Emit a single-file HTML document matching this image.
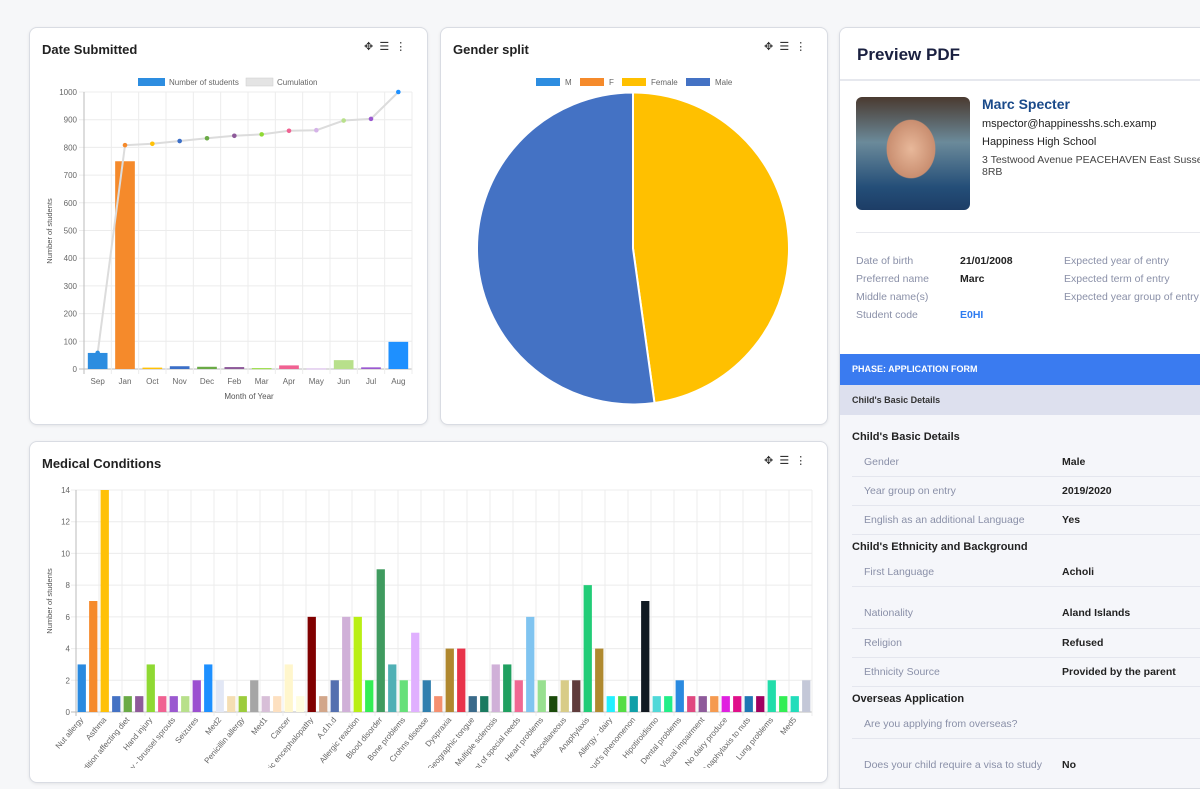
<!DOCTYPE html>
<html><head><meta charset="utf-8">
<style>
html,body{margin:0;padding:0;width:1200px;height:768px;overflow:hidden;background:#f6f7f9;font-family:"Liberation Sans",sans-serif;}
.card{position:absolute;background:#fff;border:1px solid #d9dce3;border-radius:8px;box-shadow:0 1px 3px rgba(0,0,0,.08);overflow:hidden;}
.title{position:absolute;left:12px;top:14px;font-size:13px;font-weight:bold;color:#222;}
.icons{position:absolute;top:12px;font-size:11px;color:#333;}
svg text{font-family:"Liberation Sans",sans-serif;}
.pv{position:absolute;font-size:10.5px;white-space:nowrap;}
.lbl{color:#8a90a8;}
.val{color:#222;font-weight:bold;}
</style></head><body>

<div class="card" style="left:29px;top:27px;width:397px;height:396px;">
  <div class="title">Date Submitted</div>
  <div class="icons" style="left:334px;">✥ &nbsp;☰ &nbsp;⋮</div>
</div>
<div class="card" style="left:440px;top:27px;width:386px;height:396px;">
  <div class="title">Gender split</div>
  <div class="icons" style="left:323px;">✥ &nbsp;☰ &nbsp;⋮</div>
</div>
<div class="card" style="left:29px;top:441px;width:797px;height:340px;">
  <div class="title">Medical Conditions</div>
  <div class="icons" style="left:734px;">✥ &nbsp;☰ &nbsp;⋮</div>
</div>

<svg id="charts" width="840" height="768" style="position:absolute;left:0;top:0;"></svg>

<div class="card" style="left:839px;top:27px;width:370px;height:760px;border-radius:8px 0 0 0;background:#f5f6fa;">
  <div style="position:absolute;left:0;top:0;width:370px;height:326px;background:#fff;"></div>
  <div style="position:absolute;left:17px;top:17px;font-size:17px;font-weight:bold;color:#1a2040;">Preview PDF</div>
  <div style="position:absolute;left:0;top:51px;width:370px;height:2px;background:#e6e8ee;"></div>
  <div style="position:absolute;left:16px;top:69px;width:114px;height:113px;border-radius:6px;background:radial-gradient(ellipse 40px 48px at 55px 52px,#e8b89a 0%,#c98e70 60%,transparent 62%),linear-gradient(180deg,#4a3a30 0%,#6b8a9a 40%,#244e78 80%,#1d3d66 100%);"></div>
  <div style="position:absolute;left:142px;top:68px;font-size:14px;font-weight:bold;color:#1a4a8a;">Marc Specter</div>
  <div class="pv" style="left:142px;top:90px;color:#222;font-size:11px;">mspector@happinesshs.sch.examp</div>
  <div class="pv" style="left:142px;top:108px;color:#222;font-size:11px;">Happiness High School</div>
  <div class="pv" style="left:142px;top:126px;color:#444;font-size:10.5px;line-height:12px;">3 Testwood Avenue PEACEHAVEN East Sussex<br>8RB</div>
  <div style="position:absolute;left:16px;top:204px;width:360px;height:1px;background:#e8e9ee;"></div>
  <div class="pv lbl" style="left:16px;top:227px;">Date of birth</div><div class="pv val" style="left:120px;top:227px;">21/01/2008</div><div class="pv lbl" style="left:224px;top:227px;">Expected year of entry</div>
  <div class="pv lbl" style="left:16px;top:245px;">Preferred name</div><div class="pv val" style="left:120px;top:245px;">Marc</div><div class="pv lbl" style="left:224px;top:245px;">Expected term of entry</div>
  <div class="pv lbl" style="left:16px;top:263px;">Middle name(s)</div><div class="pv lbl" style="left:224px;top:263px;">Expected year group of entry</div>
  <div class="pv lbl" style="left:16px;top:281px;">Student code</div><div class="pv" style="left:120px;top:281px;color:#2f7cf0;font-weight:bold;">E0HI</div>
  <div style="position:absolute;left:0;top:326px;width:370px;height:31px;background:#3a7bf0;color:#fff;font-size:9px;font-weight:bold;line-height:31px;padding-left:12px;box-sizing:border-box;">PHASE: APPLICATION FORM</div>
  <div style="position:absolute;left:0;top:357px;width:370px;height:30px;background:#dde0ee;color:#333;font-size:9px;font-weight:bold;line-height:30px;padding-left:12px;box-sizing:border-box;">Child's Basic Details</div>
  <div style="position:absolute;left:12px;top:403px;font-size:11px;font-weight:bold;color:#222;">Child's Basic Details</div>
  <div style="position:absolute;left:12px;top:513px;font-size:11px;font-weight:bold;color:#222;">Child's Ethnicity and Background</div>
  <div style="position:absolute;left:12px;top:665px;font-size:11px;font-weight:bold;color:#222;">Overseas Application</div>
  <div id="rows"></div>
</div>

<script>
// ---------- Date Submitted ----------
const months = ["Sep","Jan","Oct","Nov","Dec","Feb","Mar","Apr","May","Jun","Jul","Aug"];
const monthCounts = [58,750,5,10,8,7,3,13,2,32,6,98];
const cumulation = [58,808,813,823,833,842,847,860,862,897,903,1000];
const monthColors = ["#2d8de0","#f58a2b","#ffc107","#3b6fc8","#6aaa46","#8e5a9a","#8fd933","#f06292","#d5b3e8","#b8e08b","#9b59d0","#1e90ff"];
const dateTicks = [0,100,200,300,400,500,600,700,800,900,1000];

// ---------- Gender ----------
const genderLabels = ["M","F","Female","Male"];
const genderValues = [0,0,478,522];
const genderColors = ["#2d8de0","#f58a2b","#ffc000","#4472c4"];

// ---------- Medical ----------
const conditions = ["Nut allergy","Peanut allergy","Asthma","Eczema","Condition affecting diet","Diabetes","Hand injury","Hay fever","Allergy - brussel sprouts","Epilepsy","Seizures","Migraine","Med2","Med3","Penicillin allergy","Med4","Med1","Autism","Cancer","Anaemia","Hypoxic encephalopathy","Arthritis","A.d.h.d","Lactose intolerance","Allergic reaction","Bee sting allergy","Blood disorder","Back problems","Bone problems","Coeliac disease","Crohns disease","Deafness","Dyspraxia","Dyslexia","Geographic tongue","Glue ear","Multiple sclerosis","Gluten allergy","Statement of special needs","Hearing impairment","Heart problems","Kidney problems","Miscellaneous","Mobility","Anaphylaxis","Speech problems","Allergy - dairy","Allergy - egg","Raynaud's phenomenon","Scoliosis","Hipotiroidismo","Sickle cell","Dental problems","Skin condition","Visual impairment","Wheat allergy","No dairy produce","Fish allergy","Anaphylaxis to nuts","Soya allergy","Lung problems","Shellfish allergy","Med5","Other"];
const conditionCounts = [3,7,14,1,1,1,3,1,1,1,2,3,2,1,1,2,1,1,3,1,6,1,2,6,6,2,9,3,2,5,2,1,4,4,1,1,3,3,2,6,2,1,2,2,8,4,1,1,1,7,1,1,2,1,1,1,1,1,1,1,2,1,1,2];
const conditionColors = ["#2a8ae0","#f58a2b","#ffc107","#4472c4","#6aaa46","#8e5a9a","#8fd933","#f06292","#9b59d0","#b8e08b","#9b4fd0","#1e90ff","#e2e7f5","#f5deb3","#9ccc3c","#a6a6a6","#d8bfd8","#fde0c0","#fff6cc","#fffde0","#800000","#d2a68a","#5470b0","#d0b0d8","#b9ef14","#33ee55","#3f9b5f","#50b0b5","#66e07a","#e0b0ff","#2f7fae","#f59070","#b0882f","#e8334a","#3a6a8a","#1a7a60","#d0b0d8","#20a060","#f06892","#80c4f0","#98e090","#1a4a0a","#d8cc88","#603c3c","#22cc77","#b08a30","#22f0ff","#55dd44","#10a0a8","#111a22","#50d8d8","#22ee88","#2a8ae0","#e04880","#8e5a9a","#f59a50","#e020e0","#e0108a","#1f77b4","#a00060","#22ddaa","#33ee55","#22ddbb","#c4c8d8"];
const medTicks = [0,2,4,6,8,10,12,14];

const svg = document.getElementById('charts');
const NS = "http://www.w3.org/2000/svg";
function mk(tag, attrs, parent){ const e=document.createElementNS(NS,tag); for(const k in attrs) e.setAttribute(k,attrs[k]); (parent||svg).appendChild(e); return e; }
function txt(s, attrs, parent){ const e=mk('text',attrs,parent); e.textContent=s; return e; }

(function(){
  const x0=84,x1=412,yTop=92,yBot=369,max=1000;
  const step=(x1-x0)/months.length;
  const y=v=>yBot-(v/max)*(yBot-yTop);
  const xc=i=>x0+step*(i+0.5);
  const g=mk('g',{});
  
  
  dateTicks.forEach(t=>{
    const l=mk('line',{x1:x0-5,x2:x1,y1:y(t),y2:y(t),stroke:t===0?'#bbb':'#ececec','stroke-width':1},g);
    
    
    const tt=txt(String(t),{x:x0-7,y:y(t)+3,'font-size':8,fill:'#666','text-anchor':'end'},g);
    
    
  });
  for(let i=0;i<=months.length;i++){
    mk('line',{x1:x0+step*i,x2:x0+step*i,y1:yTop,y2:yBot+5,stroke:i===0?'#bbb':'#ececec'},g);
  }
  months.forEach((m,i)=>{
    const bw=step*0.72;
    const r=mk('rect',{x:xc(i)-bw/2,y:y(monthCounts[i]),width:bw,height:Math.max(1,yBot-y(monthCounts[i])),fill:monthColors[i]},g);
    
    
    const t=txt(m,{x:xc(i),y:384,'font-size':8,fill:'#666','text-anchor':'middle'},g);
    
    
  });
  const pts=cumulation.map((v,i)=>xc(i)+','+y(v)).join(' ');
  const pl=mk('polyline',{points:pts,fill:'none',stroke:'#dcdcdc','stroke-width':2},g);
  
  
  cumulation.forEach((v,i)=>{
    const c=mk('circle',{cx:xc(i),cy:y(v),r:2.3,fill:monthColors[i]},g);
    
    
  });
  const yt=txt('Number of students',{x:0,y:0,'font-size':7.5,fill:'#555','text-anchor':'middle',transform:'translate(52,231) rotate(-90)'},g);
  
  
  const xt=txt('Month of Year',{x:249,y:399,'font-size':8,fill:'#555','text-anchor':'middle'},g);
  
  
  const l1=mk('rect',{x:138,y:78,width:27,height:8,fill:'#2d8de0'},g);
  
  
  txt('Number of students',{x:169,y:85,'font-size':8,fill:'#666'},g);
  const l2=mk('rect',{x:246,y:78,width:27,height:8,fill:'#e4e4e4',stroke:'#ccc','stroke-width':0.5},g);
  
  
  txt('Cumulation',{x:277,y:85,'font-size':8,fill:'#666'},g);
})();

(function(){
  const cx=633,cy=248.5,R=156;
  const g=mk('g',{});
  
  
  const total=genderValues.reduce((a,b)=>a+b,0);
  let a=0;
  genderValues.forEach((v,i)=>{
    if(v<=0) return;
    const a2=a+v/total*2*Math.PI;
    const p=(ang)=>[cx+R*Math.sin(ang),cy-R*Math.cos(ang)];
    const [sx,sy]=p(a),[ex,ey]=p(a2);
    const large=(a2-a)>Math.PI?1:0;
    const s=mk('path',{d:`M${cx},${cy} L${sx},${sy} A${R},${R} 0 ${large} 1 ${ex},${ey} Z`,fill:genderColors[i],stroke:'#fff','stroke-width':2},g);
    
    
    a=a2;
  });
  const lx=[536,580,622,686];
  genderLabels.forEach((l,i)=>{
    const r=mk('rect',{x:lx[i],y:78,width:24,height:8,fill:genderColors[i]},g);
    
    
    txt(l,{x:lx[i]+29,y:85,'font-size':8,fill:'#666'},g);
  });
})();

(function(){
  const x0=76,x1=812,yTop=490,yBot=712,max=14;
  const n=conditions.length, step=(x1-x0)/n;
  const y=v=>yBot-(v/max)*(yBot-yTop);
  const xc=i=>x0+step*(i+0.5);
  const g=mk('g',{});
  
  
  medTicks.forEach(t=>{
    mk('line',{x1:x0-5,x2:x1,y1:y(t),y2:y(t),stroke:t===0?'#bbb':'#ececec'},g);
    const tt=txt(String(t),{x:x0-6,y:y(t)+3,'font-size':8,fill:'#666','text-anchor':'end'},g);
    
    
  });
  for(let i=0;i<=n;i+=2){
    mk('line',{x1:x0+step*i,x2:x0+step*i,y1:yTop,y2:yBot+4,stroke:i===0?'#bbb':'#ececec'},g);
  }
  conditions.forEach((c,i)=>{
    const bw=step*0.72;
    const r=mk('rect',{x:xc(i)-bw/2,y:y(conditionCounts[i]),width:bw,height:yBot-y(conditionCounts[i]),fill:conditionColors[i]},g);
    
    
    if(i%2===0){
      const t=txt(c,{x:0,y:0,'font-size':8,fill:'#666','text-anchor':'end',transform:`translate(${xc(i)+2},${yBot+8}) rotate(-50)`},g);
      
      
    }
  });
  const yt=txt('Number of students',{x:0,y:0,'font-size':7.5,fill:'#555','text-anchor':'middle',transform:'translate(52,601) rotate(-90)'},g);
  
  
})();

// Preview rows (page y coordinates, panel top = 27)
const rowLabels=["Gender","Year group on entry","English as an additional Language","First Language","Nationality","Religion","Ethnicity Source","Are you applying from overseas?","Does your child require a visa to study"];
const rowValues=["Male","2019/2020","Yes","Acholi","Aland Islands","Refused","Provided by the parent","","No"];
const rowCenters=[461,490,519,571,612,642,671,723,764];
const dividerYs=[475,504,533,585,627,656,685,737];
const rowsEl=document.getElementById('rows');
rowLabels.forEach((l,i)=>{
  const top=rowCenters[i]-6-27;
  const a=document.createElement('div');
  a.className='pv lbl';
  
  
  a.style.left='24px'; a.style.top=top+'px';
  a.textContent=l;
  rowsEl.appendChild(a);
  const b=document.createElement('div');
  b.className='pv val';
  
  
  b.style.left='222px'; b.style.top=top+'px';
  b.textContent=rowValues[i];
  rowsEl.appendChild(b);
});
dividerYs.forEach(yv=>{
  const ln=document.createElement('div');
  
  
  ln.style.cssText=`position:absolute;left:12px;width:360px;height:1px;background:#e4e6ee;top:${yv-27}px`;
  rowsEl.appendChild(ln);
});
</script>
</body></html>
